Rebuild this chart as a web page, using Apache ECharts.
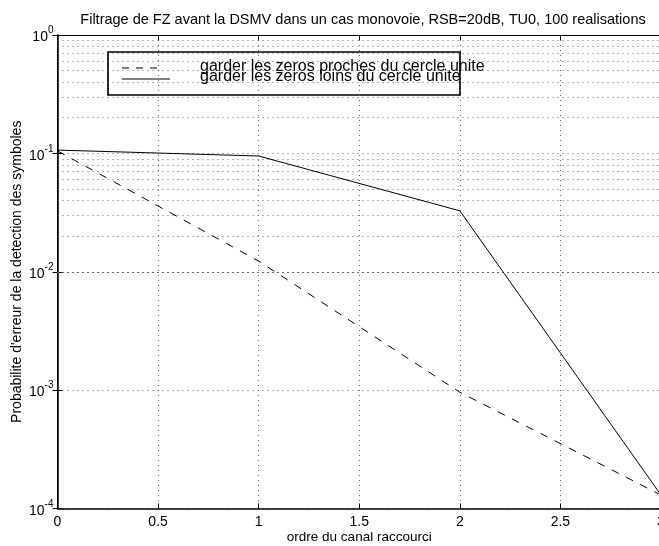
<!DOCTYPE html>
<html>
<head>
<meta charset="utf-8">
<script src="https://cdn.jsdelivr.net/npm/echarts@6/dist/echarts.min.js"></script>
<style>
  html, body { margin: 0; padding: 0; background: #fff; }
  #chart { width: 659px; height: 546px; }
</style>
</head>
<body>
<div id="chart"></div>
<script>
// Ordre du canal raccourci
const orders = [0, 1, 2, 3];
// Probabilite d'erreur : zeros proches du cercle unite
const procheErr = [0.105, 0.0123, 0.00096, 0.00013];
// Probabilite d'erreur : zeros loins du cercle unite
const loinErr = [0.1066, 0.095, 0.0327, 0.00013];
// Tick labels on the x axis
const xTicks = ['0', '0.5', '1', '1.5', '2', '2.5', '3'];
// Intermediate decade values for the dotted log grid
const minorGrid = [];
for (let e = -4; e < 0; e++) {
  for (let m = 2; m <= 9; m++) minorGrid.push(m * Math.pow(10, e));
}

const FONT = '"Liberation Sans", Arial, Helvetica, sans-serif';
const dotted = { color: '#666', width: 1, type: [1, 4] };

const chart = echarts.init(document.getElementById('chart'));
chart.setOption({
  animation: false,
  backgroundColor: '#fff',
  textStyle: { fontFamily: FONT },
  title: {
    text: 'Filtrage de FZ avant la DSMV dans un cas monovoie, RSB=20dB, TU0, 100 realisations',
    left: 358, top: 7, textAlign: 'center',
    textStyle: { fontSize: 14.5, fontWeight: 'normal', color: '#000', fontFamily: FONT }
  },
  grid: { left: 57.5, right: -2, top: 35, bottom: 37.5, containLabel: false, outerBoundsMode: 'none' },
  xAxis: [{
    type: 'value', min: 0, max: 3, interval: 0.5,
    name: 'ordre du canal raccourci', nameLocation: 'middle', nameGap: 22,
    nameMoveOverlap: false,
    nameTextStyle: { fontSize: 13.5, color: '#000', fontFamily: FONT },
    axisLine: { show: true, lineStyle: { color: '#000', width: 1.5 } },
    axisTick: { show: true, inside: true, length: 5, lineStyle: { color: '#000' } },
    axisLabel: {
      fontSize: 14, color: '#000', margin: 7, fontFamily: FONT,
      formatter: (v) => xTicks[Math.round(v * 2)]
    },
    splitLine: { show: true, lineStyle: dotted }
  }, {
    type: 'value', min: 0, max: 3, interval: 0.5, position: 'top',
    axisLine: { show: true, lineStyle: { color: '#000', width: 1 } },
    axisTick: { show: true, inside: true, length: 5, lineStyle: { color: '#000' } },
    axisLabel: { show: false },
    splitLine: { show: false }
  }],
  yAxis: [{
    type: 'log', logBase: 10, min: 1e-4, max: 1,
    name: 'Probabilite d\'erreur de la detection des symboles',
    nameLocation: 'middle', nameGap: 33, nameRotate: 90,
    nameMoveOverlap: false,
    nameTextStyle: { fontSize: 14, color: '#000', fontFamily: FONT },
    axisLine: { show: true, lineStyle: { color: '#000', width: 1.5 } },
    axisTick: { show: true, inside: true, length: 5, lineStyle: { color: '#000' } },
    axisLabel: {
      color: '#000', margin: 4,
      formatter: (v) => '{b|10}{e|' + Math.round(Math.log10(v)) + '}',
      rich: {
        b: { fontSize: 14, color: '#000', fontFamily: FONT, verticalAlign: 'bottom' },
        e: { fontSize: 10, color: '#000', fontFamily: FONT, verticalAlign: 'bottom', padding: [0, 0, 9, 0] }
      }
    },
    splitLine: { show: true, lineStyle: dotted }
  }, {
    type: 'log', logBase: 10, min: 1e-4, max: 1, position: 'right',
    axisLine: { show: true, lineStyle: { color: '#000', width: 1 } },
    axisTick: { show: true, inside: true, length: 5, lineStyle: { color: '#000' } },
    axisLabel: { show: false },
    splitLine: { show: false }
  }],
  series: [{
    name: 'grille',
    type: 'line',
    data: [],
    silent: true,
    markLine: {
      silent: true, symbol: ['none', 'none'], animation: false,
      label: { show: false },
      lineStyle: dotted,
      data: minorGrid.map((v) => ({ yAxis: v }))
    }
  }, {
    name: 'garder les zeros proches du cercle unite',
    type: 'line',
    data: orders.map((x, i) => [x, procheErr[i]]),
    showSymbol: false, symbol: 'none',
    lineStyle: { color: '#000', width: 1, type: [8, 8] },
    z: 5
  }, {
    name: 'garder les zeros loins du cercle unite',
    type: 'line',
    data: orders.map((x, i) => [x, loinErr[i]]),
    showSymbol: false, symbol: 'none',
    lineStyle: { color: '#000', width: 1 },
    z: 5
  }],
  graphic: [{
    type: 'group', x: 0, y: 0, z: 100,
    children: [{
      type: 'rect', shape: { x: 108, y: 52, width: 352, height: 43 },
      style: { fill: '#fff', stroke: '#000', lineWidth: 1.7 }
    }, {
      type: 'line', shape: { x1: 122, y1: 68, x2: 162, y2: 68 },
      style: { stroke: '#000', lineWidth: 1, lineDash: [7, 7] }
    }, {
      type: 'line', shape: { x1: 122, y1: 79, x2: 170, y2: 79 },
      style: { stroke: '#000', lineWidth: 1 }
    }, {
      type: 'text', x: 200, y: 67, z2: 10,
      style: { text: 'garder les zeros proches du cercle unite', fontSize: 16, fontFamily: FONT, fill: '#000', verticalAlign: 'middle' }
    }, {
      type: 'text', x: 200, y: 77, z2: 10,
      style: { text: 'garder les zeros loins du cercle unite', fontSize: 16, fontFamily: FONT, fill: '#000', verticalAlign: 'middle' }
    }]
  }]
});
</script>
</body>
</html>
